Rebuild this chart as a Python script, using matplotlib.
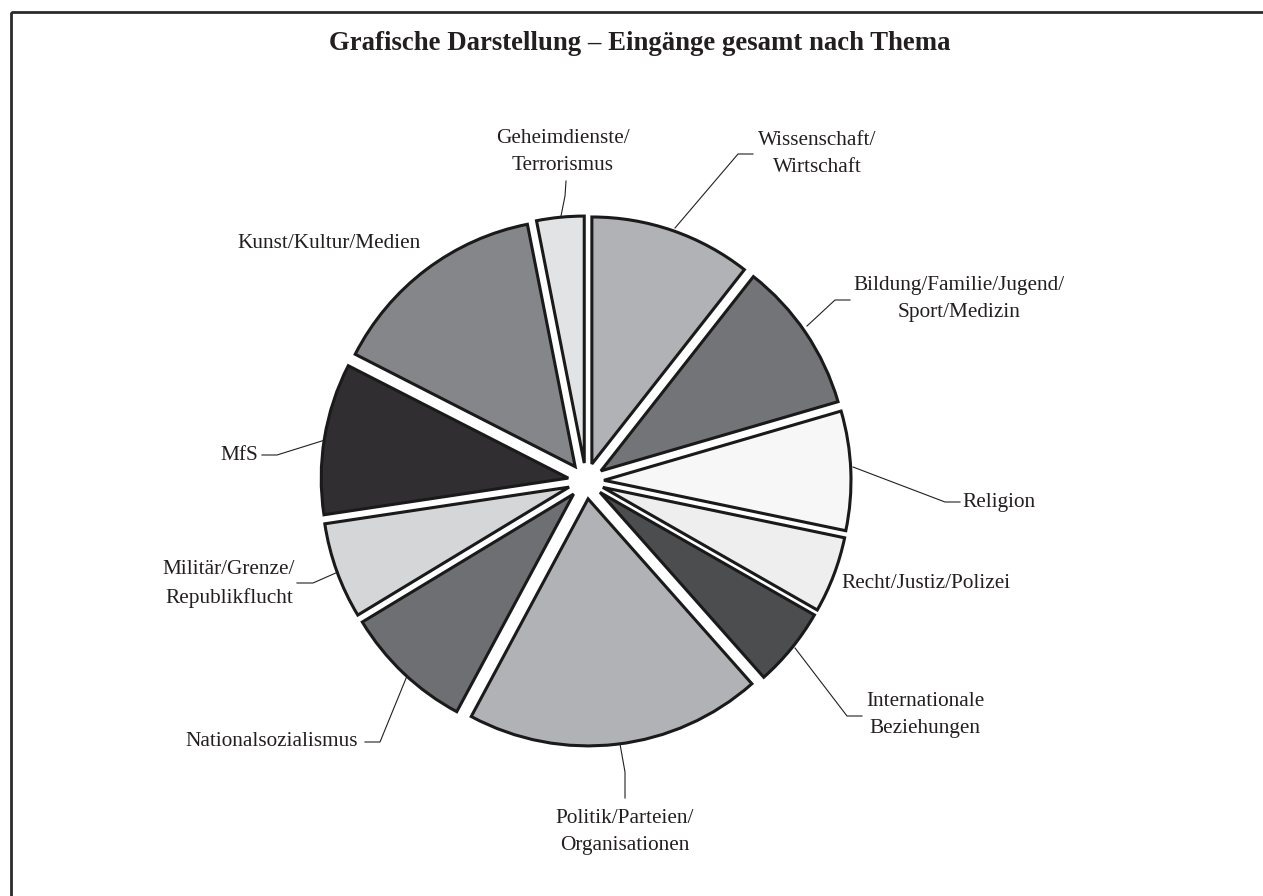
import numpy as np
import matplotlib.pyplot as plt
from matplotlib.patches import Rectangle

plt.rcParams['font.family'] = ['Liberation Serif', 'DejaVu Serif']

# Themen im Uhrzeigersinn ab 12 Uhr
themen = ['Wissenschaft/\nWirtschaft',
          'Bildung/Familie/Jugend/\nSport/Medizin',
          'Religion',
          'Recht/Justiz/Polizei',
          'Internationale\nBeziehungen',
          'Politik/Parteien/\nOrganisationen',
          'Nationalsozialismus',
          'Militär/Grenze/\nRepublikflucht',
          'MfS',
          'Kunst/Kultur/Medien',
          'Geheimdienste/\nTerrorismus']

# Anteile in Prozent (aus der Grafik geschätzt)
anteile = [10.6, 9.9, 7.8, 5.0, 5.2, 19.4, 8.5, 6.3, 9.9, 14.4, 3.1]

farben = ['#b1b2b5', '#737477', '#f7f7f7', '#eeeeee', '#4c4d4f', '#b1b2b5',
          '#6e6f72', '#d5d6d8', '#302e30', '#85868a', '#e2e3e5']

# Beschriftungen in Pixelkoordinaten (x, y, Ausrichtung)
label_pos = [(817, 154, 'center'), (959, 299, 'center'), (962, 502, 'left'),
             (926, 583, 'center'), (925, 715, 'center'), (625, 832, 'center'),
             (358, 742, 'right'), (229, 584, 'center'), (258, 455, 'right'),
             (329, 243, 'center'), (563, 152, 'center')]

# Führungslinien (None = keine)
leader = [[(675, 228), (738, 154), (753, 154)],
          [(807, 326), (835, 300), (850, 300)],
          [(853, 467), (945, 502), (960, 502)],
          None,
          [(795, 648), (847, 716), (862, 716)],
          [(620, 744), (625, 772), (625, 798)],
          [(407, 676), (380, 742), (365, 742)],
          [(338, 572), (313, 583), (297, 583)],
          [(325, 440), (277, 455), (262, 455)],
          None,
          [(561, 216), (565, 196), (566, 181)]]

fig = plt.figure(figsize=(12.63, 8.96), dpi=100)
ax = fig.add_axes([0, 0, 1, 1])

# y-Achse ist umgedreht (Pixel), daher startangle=-90 und counterclock=True
# explode ist bei pie in Dateneinheiten, hier also Pixel
ax.pie(anteile, colors=farben, startangle=-90, counterclock=True,
       center=(586, 481), radius=247, explode=[18] * len(anteile),
       wedgeprops=dict(edgecolor='#1a1a1a', linewidth=2.2), frame=True)

ax.set_xlim(0, 1263)
ax.set_ylim(896, 0)
ax.set_aspect('equal')
ax.axis('off')

for (x, y, ha), text, pts in zip(label_pos, themen, leader):
    ax.text(x, y, text, ha=ha, va='center', multialignment='center',
            fontsize=15.3, color='#231f20', linespacing=1.56)
    if pts is not None:
        xs, ys = zip(*pts)
        ax.plot(xs, ys, color='#231f20', lw=0.8)

ax.text(640, 44, 'Grafische Darstellung – Eingänge gesamt nach Thema',
        ha='center', va='center', fontsize=19.3, fontweight='bold', color='#231f20')

ax.add_patch(Rectangle((10.5, 12), 1400, 1000, fill=False, ec='#2a2a2a', lw=2))

fig.savefig('out.png', dpi=100)
